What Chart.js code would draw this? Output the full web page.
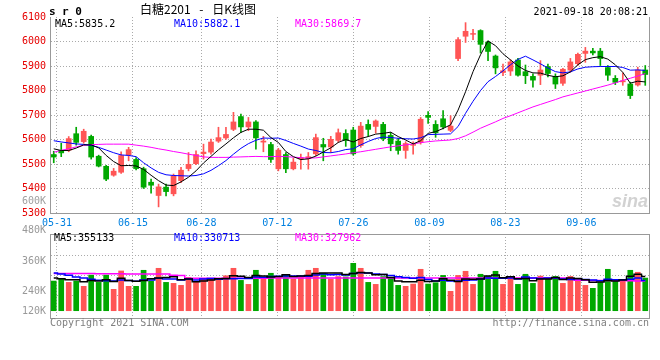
<!DOCTYPE html>
<html><head><meta charset="utf-8">
<script src="https://cdn.jsdelivr.net/npm/chart.js@4.4.1/dist/chart.umd.min.js"></script>
<style>
html,body{margin:0;padding:0;background:#fff;}
#wrap{position:relative;width:660px;height:360px;overflow:hidden;background:#fff;}
canvas{position:absolute;left:0;}
.t{position:absolute;white-space:pre;font-family:"DejaVu Sans Mono",monospace;font-size:10px;line-height:10px;}
</style></head><body>
<div id="wrap">
<canvas id="main" width="660" height="232" style="top:0px"></canvas>
<canvas id="vol" width="660" height="138" style="top:222px"></canvas>
<div class="t" style="left:49px;top:5.7px;font-size:11px;line-height:11px;font-weight:bold;letter-spacing:6.5px;color:#000">sr0</div>
<div class="t" style="left:140px;top:3px;font-family:'Noto Sans CJK SC',sans-serif;font-size:12px;line-height:12px;word-spacing:6px;color:#000">白糖2201 - 日K线图</div>
<div class="t" style="right:12px;top:7px;color:#000">2021-09-18 20:08:21</div>
<div class="t" style="left:55px;top:19px;color:#000">MA5:5835.2</div>
<div class="t" style="left:174px;top:19px;color:#0000ff">MA10:5882.1</div>
<div class="t" style="left:295px;top:19px;color:#ff00ff">MA30:5869.7</div>
<div class="t" style="right:614px;top:195.5px;color:#a0a0a0">600K</div>
<div class="t" style="right:12px;top:192px;font-family:'Liberation Sans',sans-serif;font-size:18px;line-height:18px;font-style:italic;font-weight:bold;color:#d2d2d2">sina</div>
<div class="t" style="left:54px;top:233px;color:#000">MA5:355133</div>
<div class="t" style="left:174px;top:233px;color:#0000ff">MA10:330713</div>
<div class="t" style="left:295px;top:233px;color:#ff00ff">MA30:327962</div>
<div class="t" style="left:50px;top:317.5px;color:#808080">Copyright 2021 SINA.COM</div>
<div class="t" style="right:11px;top:317.5px;color:#808080">http://finance.sina.com.cn</div>
</div>
<script>
// ---------------- data ----------------
const dates = ['05-28','05-31','06-01','06-02','06-03','06-04','06-07','06-08','06-09','06-10','06-11','06-15','06-16','06-17','06-18','06-21','06-22','06-23','06-24','06-25','06-28','06-29','06-30','07-01','07-02','07-05','07-06','07-07','07-08','07-09','07-12','07-13','07-14','07-15','07-16','07-19','07-20','07-21','07-22','07-23','07-26','07-27','07-28','07-29','07-30','08-02','08-03','08-04','08-05','08-06','08-09','08-10','08-11','08-12','08-13','08-16','08-17','08-18','08-19','08-20','08-23','08-24','08-25','08-26','08-27','08-30','08-31','09-01','09-02','09-03','09-06','09-07','09-08','09-09','09-10','09-13','09-14','09-15','09-16','09-17'];
const tickDates = ['05-31','06-15','06-28','07-12','07-26','08-09','08-23','09-06'];
const priceTicks = [5300,5400,5500,5600,5700,5800,5900,6000,6100];
const volTickLabels = ['480K','360K','240K','120K'];
const volGridValues = [480000,360000,240000];

const open = [5540,5557,5555,5625,5590,5614,5533,5492,5453,5465,
  5535,5520,5482,5427,5370,5407,5377,5431,5480,5500,
  5541,5547,5592,5605,5640,5695,5650,5673,5588,5581,
  5479,5540,5479,5520,5521,5540,5581,5568,5595,5626,
  5640,5574,5663,5652,5663,5618,5595,5554,5575,5588,
  5700,5663,5686,5636,5929,6020,6028,6046,5999,5942,
  5872,5878,5926,5878,5859,5861,5899,5859,5828,5882,
  5908,5950,5962,5962,5895,5851,5834,5828,5821,5885];
const high = [5552,5585,5612,5650,5642,5618,5536,5495,5482,5550,
  5568,5526,5487,5438,5418,5418,5459,5486,5547,5554,
  5581,5602,5650,5650,5711,5704,5690,5677,5613,5588,
  5564,5547,5523,5540,5547,5622,5605,5613,5643,5640,
  5650,5670,5680,5680,5670,5629,5605,5591,5591,5690,
  5714,5677,5718,5697,6016,6077,6050,6048,6003,5945,
  5908,5926,5931,5904,5868,5922,5908,5868,5891,5931,
  5953,5976,5972,5972,5902,5861,5872,5834,5895,5902];
const low = [5505,5530,5550,5577,5585,5520,5488,5432,5450,5462,
  5513,5476,5400,5381,5325,5370,5370,5424,5472,5497,
  5520,5540,5588,5600,5636,5629,5636,5561,5550,5506,
  5472,5465,5476,5479,5479,5534,5513,5547,5588,5572,
  5536,5568,5613,5626,5595,5554,5540,5523,5540,5581,
  5666,5609,5643,5632,5922,5996,6007,5953,5922,5868,
  5861,5861,5859,5828,5814,5824,5855,5808,5821,5875,
  5902,5915,5945,5902,5841,5824,5821,5767,5818,5821];
const close = [5527,5544,5605,5587,5635,5527,5490,5437,5472,5536,
  5560,5480,5404,5412,5408,5386,5452,5476,5500,5540,
  5550,5591,5609,5622,5673,5650,5673,5605,5595,5517,
  5558,5479,5509,5527,5531,5609,5568,5602,5629,5595,
  5540,5656,5640,5677,5602,5581,5554,5585,5581,5684,
  5689,5626,5650,5656,6009,6043,6034,5987,5958,5891,
  5882,5918,5861,5859,5841,5885,5868,5825,5888,5918,
  5949,5962,5952,5929,5861,5832,5841,5778,5885,5864];

const ma5 = [5562,5555,5555,5565,5578,5578,5566,5535,5510,5493,
  5494,5492,5478,5454,5432,5414,5412,5427,5446,5472,
  5504,5531,5558,5582,5607,5629,5642,5642,5638,5608,
  5588,5551,5530,5518,5521,5532,5549,5566,5588,5600,
  5590,5604,5612,5622,5625,5630,5612,5598,5582,5595,
  5625,5632,5645,5660,5720,5795,5877,5946,6002,5983,
  5950,5925,5900,5882,5872,5871,5862,5856,5860,5876,
  5905,5926,5934,5938,5928,5905,5874,5830,5838,5835];
const ma10 = [5595,5590,5586,5582,5580,5576,5568,5557,5546,5537,
  5535,5530,5505,5484,5466,5456,5453,5452,5451,5453,
  5460,5474,5493,5514,5540,5564,5583,5597,5606,5605,
  5606,5596,5584,5573,5561,5555,5547,5546,5551,5559,
  5562,5578,5592,5604,5610,5608,5605,5603,5602,5607,
  5620,5621,5622,5623,5653,5707,5756,5800,5836,5857,
  5880,5905,5927,5940,5925,5909,5892,5877,5872,5876,
  5888,5895,5897,5898,5898,5898,5894,5883,5884,5882];
const ma30 = [5548,5556,5562,5570,5576,5579,5580,5581,5581,5581,
  5581,5577,5573,5568,5562,5557,5551,5546,5540,5535,
  5529,5527,5527,5527,5528,5529,5530,5531,5530,5530,
  5531,5530,5528,5526,5524,5525,5529,5533,5537,5541,
  5546,5550,5555,5560,5565,5570,5574,5578,5582,5587,
  5591,5594,5596,5598,5604,5615,5630,5646,5659,5672,
  5686,5697,5709,5721,5733,5743,5753,5763,5774,5782,
  5790,5798,5806,5814,5822,5831,5841,5850,5859,5869];

const volume = [329000,341000,321000,329000,297000,365000,321000,365000,279000,390000,
  297000,297000,394000,329000,406000,321000,315000,303000,351000,325000,
  345000,345000,337000,361000,406000,333000,309000,394000,345000,376000,
  349000,363000,341000,356000,394000,406000,376000,341000,356000,354000,
  436000,406000,321000,309000,356000,349000,303000,297000,311000,400000,
  311000,319000,363000,267000,363000,388000,309000,370000,359000,388000,
  309000,341000,309000,370000,315000,359000,341000,357000,315000,357000,
  341000,303000,285000,321000,400000,333000,333000,394000,382000,347000];
const volMa5 = [346000,341000,335000,335000,323000,331000,327000,335000,325000,344000,
  330000,326000,331000,341000,345000,349000,353000,335000,339000,323000,
  328000,334000,341000,343000,359000,356000,349000,361000,357000,351000,
  355000,365000,355000,357000,361000,372000,375000,375000,375000,367000,
  373000,379000,375000,365000,366000,348000,328000,323000,323000,332000,
  324000,328000,341000,332000,325000,340000,338000,339000,358000,363000,
  347000,353000,341000,343000,329000,339000,339000,348000,337000,346000,
  342000,335000,320000,321000,330000,328000,334000,356000,368000,355000];
const volMa10 = [376000,370000,362000,352000,345000,338000,332000,329000,328000,334000,
  331000,326000,333000,333000,344000,340000,339000,333000,340000,334000,
  339000,343000,338000,341000,341000,342000,342000,351000,350000,355000,
  356000,357000,358000,357000,356000,363000,370000,365000,366000,364000,
  372000,377000,375000,370000,366000,360000,353000,349000,344000,349000,
  336000,328000,332000,328000,328000,332000,333000,340000,345000,344000,
  344000,346000,340000,351000,346000,343000,346000,345000,340000,337000,
  341000,337000,334000,329000,338000,335000,335000,338000,345000,331000];
const volMa30 = [373000,373000,372000,372000,372000,372000,371000,371000,371000,371000,
  370000,370000,370000,370000,369000,369000,362000,361000,344000,344000,
  344000,344000,344000,344000,344000,344000,344000,344000,344000,345000,
  345000,345000,345000,345000,345000,345000,346000,346000,346000,346000,
  346000,346000,346000,346000,346000,346000,346000,346000,346000,346000,
  346000,346000,346000,346000,346000,346000,346000,346000,346000,345000,
  345000,345000,345000,345000,345000,345000,345000,345000,345000,340000,
  332000,332000,331000,331000,330000,330000,330000,329000,328000,328000];

// ---------------- styling / layout constants ----------------
const MONO = '"DejaVu Sans Mono", monospace';
const RED = '#ff5555', GREEN = '#00a800';
const GRID = '#aaaaaa', AXIS = '#999999';
const GRID_SHIFT = -0.57, GRID_DRIFT = 0.015;   // sina draws its date grid slightly off the bar slots
const VOL_BASE = 146000;                         // volume bars rise from this level
const VOL_MIN = 104000, VOL_MAX = 611000;
const VOL_LABEL_AT = [611000, 419700, 240000, 122100]; // where sina prints its volume labels

const idx = dates.map((d, i) => i);
const barColors = close.map((c, i) => c >= open[i] ? RED : GREEN);
const gridIdx = tickDates.map(d => dates.indexOf(d));
const gridPos = gridIdx.map(i => i + GRID_SHIFT + (i - 1) * GRID_DRIFT);
const pts = arr => arr.map((v, i) => ({x: idx[i], y: v}));

Chart.defaults.font.family = MONO;
Chart.defaults.font.size = 10;

const common = {
  responsive: false, animation: false, devicePixelRatio: 1, events: [],
  plugins: {legend: {display: false}, tooltip: {enabled: false}}
};
const xScale = (withLabels, height) => ({
  type: 'linear', position: 'bottom', min: -0.5, max: dates.length - 0.5, offset: false,
  afterBuildTicks: s => { s.ticks = gridPos.map(v => ({value: v})); },
  afterFit: s => { s.height = height; },
  ticks: {display: withLabels, autoSkip: false, maxRotation: 0, color: '#0080e0', padding: 4,
          font: {family: MONO, size: 10}, callback: (v, i) => tickDates[i]},
  grid: {color: GRID, offset: false, drawTicks: false},
  border: {color: AXIS, dash: [1, 2]}
});
const rightBorder = {
  type: 'linear', position: 'right', display: true,
  ticks: {display: false}, grid: {display: false}, border: {color: AXIS},
  afterFit: s => { s.width = 11; }
};

new Chart(document.getElementById('main'), {
  type: 'bar',
  data: {datasets: [
    {type: 'line', data: pts(ma5), borderColor: '#000000', borderWidth: 1, pointRadius: 0, tension: 0, order: 0, xAxisID: 'x', yAxisID: 'y'},
    {type: 'line', data: pts(ma10), borderColor: '#0000ff', borderWidth: 1, pointRadius: 0, tension: 0, order: 0, xAxisID: 'x', yAxisID: 'y'},
    {type: 'line', data: pts(ma30), borderColor: '#ff00ff', borderWidth: 1, pointRadius: 0, tension: 0, order: 0, xAxisID: 'x', yAxisID: 'y'},
    {type: 'bar', data: open.map((o, i) => ({x: idx[i], y: [o, close[i]]})), backgroundColor: barColors,
     barPercentage: 0.76, categoryPercentage: 1, grouped: false, minBarLength: 1, order: 1, xAxisID: 'x', yAxisID: 'y'},
    {type: 'bar', data: low.map((l, i) => ({x: idx[i], y: [l, high[i]]})), backgroundColor: barColors,
     barThickness: 1, grouped: false, order: 2, xAxisID: 'x', yAxisID: 'y'}
  ]},
  options: Object.assign({}, common, {
    layout: {padding: {top: 17, left: 0, right: 0, bottom: 0}},
    scales: {
      x: xScale(true, 19),
      y: {type: 'linear', position: 'left', min: priceTicks[0], max: priceTicks[priceTicks.length - 1],
          afterBuildTicks: s => { s.ticks = priceTicks.map(v => ({value: v})); },
          afterFit: s => { s.width = 50; },
          ticks: {autoSkip: false, color: '#e60000', padding: 4, font: {family: MONO, size: 10},
                  callback: v => String(v)},
          grid: {color: c => c.tick && c.tick.value === priceTicks[priceTicks.length - 1] ? 'rgba(0,0,0,0)' : GRID, drawTicks: false},
          border: {color: AXIS, dash: [1, 2]}},
      yr: rightBorder
    }
  })
});

const volLabelMap = new Map(VOL_LABEL_AT.map((v, i) => [v, volTickLabels[i]]));
new Chart(document.getElementById('vol'), {
  type: 'bar',
  data: {datasets: [
    {type: 'line', data: pts(volMa5), borderColor: '#000000', borderWidth: 1.5, pointRadius: 0, stepped: 'middle', order: 0, xAxisID: 'x', yAxisID: 'y'},
    {type: 'line', data: pts(volMa10), borderColor: '#0000ff', borderWidth: 1.5, pointRadius: 0, stepped: 'middle', order: 0, xAxisID: 'x', yAxisID: 'y'},
    {type: 'line', data: pts(volMa30), borderColor: '#ff00ff', borderWidth: 1.5, pointRadius: 0, stepped: 'middle', order: 0, xAxisID: 'x', yAxisID: 'y'},
    {type: 'bar', data: pts(volume), backgroundColor: barColors, base: VOL_BASE,
     barPercentage: 0.76, categoryPercentage: 1, grouped: false, order: 1, xAxisID: 'x', yAxisID: 'y'}
  ]},
  options: Object.assign({}, common, {
    layout: {padding: 0},
    scales: {
      x: xScale(false, 42),
      xt: {type: 'linear', position: 'top', display: true, ticks: {display: false}, grid: {display: false},
           border: {color: AXIS}, afterFit: s => { s.height = 12; }},
      y: {type: 'linear', position: 'left', min: VOL_MIN, max: VOL_MAX,
          afterBuildTicks: s => { s.ticks = VOL_LABEL_AT.concat(volGridValues.filter(v => !VOL_LABEL_AT.includes(v))).map(v => ({value: v})); },
          afterFit: s => { s.width = 50; },
          ticks: {autoSkip: false, color: '#999999', padding: 4, labelOffset: -4, font: {family: MONO, size: 10},
                  callback: v => volLabelMap.get(v) || ''},
          grid: {color: c => c.tick && volGridValues.includes(c.tick.value) ? GRID : 'rgba(0,0,0,0)', drawTicks: false},
          border: {color: AXIS, dash: [1, 2]}},
      yr: rightBorder
    }
  })
});
</script>
</body></html>
